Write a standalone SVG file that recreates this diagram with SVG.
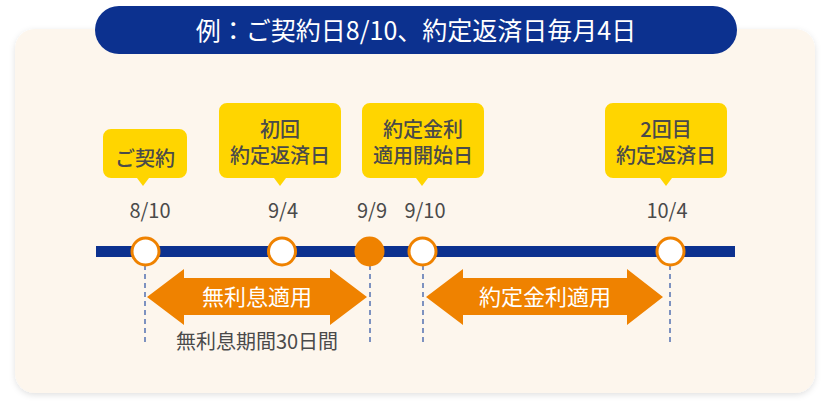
<svg xmlns="http://www.w3.org/2000/svg" width="830" height="409" viewBox="0 0 830 409">
<style>
.t{font-family:"Noto Sans CJK JP","Noto Sans",sans-serif;}
.call{fill:#ffd500;}
.ct{font-size:20px;font-weight:500;fill:#4a4a4a;text-anchor:middle;}
.dt{font-size:20px;fill:#4a4a4a;text-anchor:middle;}
.dash{stroke:#3a5ca8;stroke-width:1.3;stroke-dasharray:5 4;fill:none;}
.node{fill:#fff;stroke:#ef8200;stroke-width:3;}
.arr{fill:#ef8200;}
.at{font-size:22px;fill:#fff;text-anchor:middle;}
</style>
<defs>
<filter id="sh" x="-5%" y="-5%" width="110%" height="115%">
<feDropShadow dx="0" dy="2" stdDeviation="3" flood-color="#000" flood-opacity="0.12"/>
</filter>
</defs>
<rect x="15" y="29" width="800" height="364" rx="20" fill="#fdf6ed" filter="url(#sh)"/>
<g id="title">
<rect x="95" y="6" width="642" height="48" rx="24" fill="#0c318f"/>
<text class="t" x="416" y="39.5" font-size="25" fill="#fff" text-anchor="middle">例：ご契約日8/10、約定返済日毎月4日</text>
</g>
<g id="connectors">
<line x1="96" y1="251.5" x2="735" y2="251.5" stroke="#0c318f" stroke-width="11"/>
<line class="dash" x1="145" y1="265" x2="145" y2="342"/>
<line class="dash" x1="370" y1="265" x2="370" y2="342"/>
<line class="dash" x1="423" y1="265" x2="423" y2="342"/>
<line class="dash" x1="670" y1="265" x2="670" y2="342"/>
</g>
<g id="n-0810">
<circle class="node" cx="145.5" cy="251.5" r="13.5"/>
<path class="call" d="M111,129h68a8,8 0 0 1 8,8v33a8,8 0 0 1 -8,8h-30l-6,8l-6,-8h-26a8,8 0 0 1 -8,-8v-33a8,8 0 0 1 8,-8z"/>
<text class="t ct" x="145" y="165.5">ご契約</text>
<text class="t dt" x="150" y="218">8/10</text>
</g>
<g id="n-0904">
<circle class="node" cx="282" cy="251.5" r="13.5"/>
<path class="call" d="M227,103h106a8,8 0 0 1 8,8v59a8,8 0 0 1 -8,8h-47l-6,8l-6,-8h-47a8,8 0 0 1 -8,-8v-59a8,8 0 0 1 8,-8z"/>
<text class="t ct" x="280" y="136.5">初回</text>
<text class="t ct" x="280" y="162.5">約定返済日</text>
<text class="t dt" x="283" y="218">9/4</text>
</g>
<g id="n-0909">
<circle cx="369.5" cy="251.5" r="15" fill="#ef8200"/>
<text class="t dt" x="372" y="218">9/9</text>
</g>
<g id="n-0910">
<circle class="node" cx="422.5" cy="251.5" r="13.5"/>
<path class="call" d="M370,103h106a8,8 0 0 1 8,8v59a8,8 0 0 1 -8,8h-48l-6,8l-6,-8h-46a8,8 0 0 1 -8,-8v-59a8,8 0 0 1 8,-8z"/>
<text class="t ct" x="423" y="136.5">約定金利</text>
<text class="t ct" x="423" y="162.5">適用開始日</text>
<text class="t dt" x="425" y="218">9/10</text>
</g>
<g id="n-1004">
<circle class="node" cx="670.5" cy="251.5" r="13.5"/>
<path class="call" d="M613,103h106a8,8 0 0 1 8,8v59a8,8 0 0 1 -8,8h-47l-6,8l-6,-8h-47a8,8 0 0 1 -8,-8v-59a8,8 0 0 1 8,-8z"/>
<text class="t ct" x="666" y="136.5">2回目</text>
<text class="t ct" x="666" y="162.5">約定返済日</text>
<text class="t dt" x="667" y="218">10/4</text>
</g>
<g id="a-free">
<path class="arr" d="M147,297L184,269V278H330V269L367,297L330,325V315H184V325Z"/>
<text class="t at" x="257" y="305">無利息適用</text>
<text class="t dt" x="257" y="348.5">無利息期間30日間</text>
</g>
<g id="a-rate">
<path class="arr" d="M426,297L463,269V278H627V269L663,297L627,325V315H463V325Z"/>
<text class="t at" x="545" y="305">約定金利適用</text>
</g>
</svg>
